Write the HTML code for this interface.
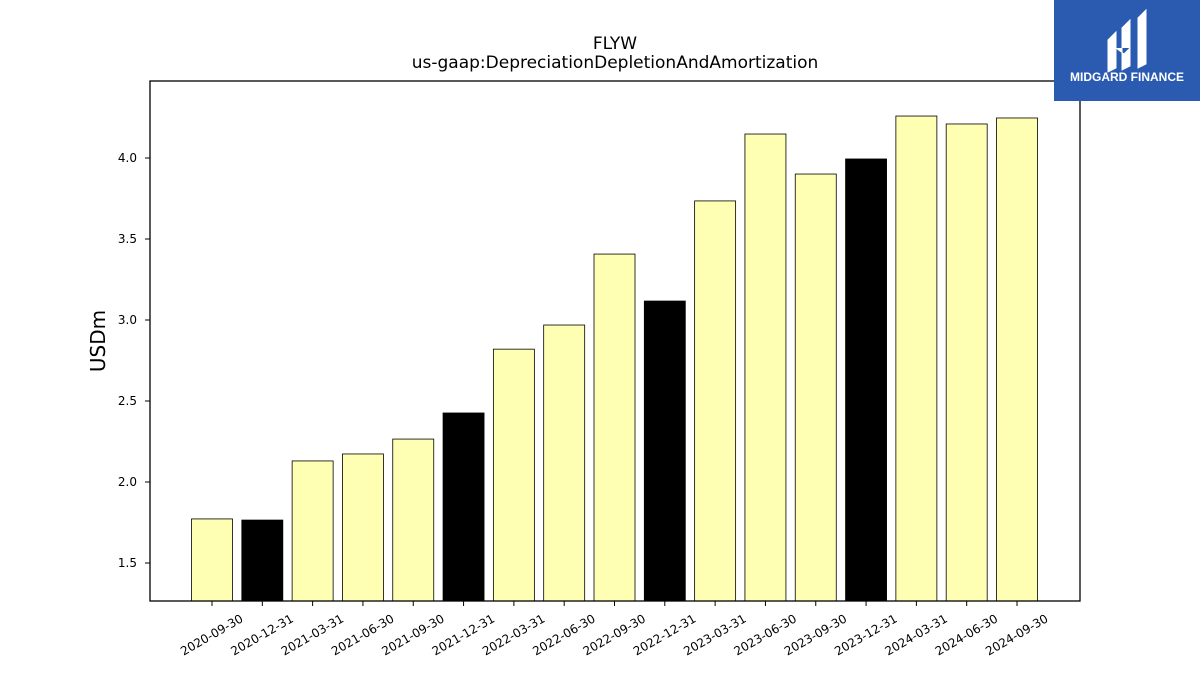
<!DOCTYPE html>
<html><head><meta charset="utf-8"><style>
body{margin:0;background:#fff;width:1200px;height:675px;overflow:hidden;font-family:"Liberation Sans","DejaVu Sans",sans-serif}
</style></head><body>
<svg id="chart" width="1200" height="675" xmlns="http://www.w3.org/2000/svg" font-family="DejaVu Sans, Liberation Sans, sans-serif">
<text x="615" y="49" text-anchor="middle" font-size="17">FLYW</text>
<text x="615" y="68" text-anchor="middle" font-size="17">us-gaap:DepreciationDepletionAndAmortization</text>
<text transform="translate(105,341) rotate(-90)" text-anchor="middle" font-size="20">USDm</text>
<g id="bars"></g>
<g id="ticks"></g>
<rect x="150" y="81" width="930" height="520" fill="none" stroke="#000" stroke-width="1.3"/>
<g>
<rect x="1054" y="0" width="146" height="101" fill="#2a5bb0"/>
<path d="M1108 40 L1116 32 L1116 68 L1108 72 Z M1122 28 L1130 20 L1130 66 L1122 70 Z M1138 18 L1146 10 L1146 64 L1138 68 Z M1116 48 L1124 54 L1130 48" fill="#fff" stroke="#fff" stroke-width="1"/>
<text x="1127" y="81" text-anchor="middle" font-size="12" font-weight="bold" fill="#fff" font-family="Liberation Sans, sans-serif">MIDGARD FINANCE</text>
</g>
</svg>
<script>
const categories=["2020-09-30","2020-12-31","2021-03-31","2021-06-30","2021-09-30","2021-12-31","2022-03-31","2022-06-30","2022-09-30","2022-12-31","2023-03-31","2023-06-30","2023-09-30","2023-12-31","2024-03-31","2024-06-30","2024-09-30"];
const values=[1.772,1.765,2.13,2.173,2.265,2.426,2.82,2.969,3.407,3.117,3.735,4.148,3.901,3.994,4.259,4.21,4.247];
const highlight=[false,true,false,false,false,true,false,false,false,true,false,false,false,true,false,false,false];
const yTicks=[1.5,2.0,2.5,3.0,3.5,4.0];
const NS="http://www.w3.org/2000/svg";
const yMin=1.2654,yMax=4.4753,plotTop=81,plotBottom=601;
function y(v){return plotBottom-(v-yMin)/(yMax-yMin)*(plotBottom-plotTop);}
function x(i){return 212+i*(1017-212)/(categories.length-1);}
const bw=41;
const bars=document.getElementById('bars'),ticks=document.getElementById('ticks');
values.forEach((v,i)=>{
 const r=document.createElementNS(NS,'rect');
 
 
 r.setAttribute('x',x(i)-bw/2);r.setAttribute('y',y(v));
 r.setAttribute('width',bw);r.setAttribute('height',plotBottom-y(v));
 r.setAttribute('fill',highlight[i]?'#000':'#ffffb3');r.setAttribute('stroke','#000');r.setAttribute('stroke-width','0.8');
 bars.appendChild(r);
 const t=document.createElementNS(NS,'line');
 
 
 t.setAttribute('x1',x(i));t.setAttribute('x2',x(i));t.setAttribute('y1',plotBottom);t.setAttribute('y2',plotBottom+5);t.setAttribute('stroke','#000');
 ticks.appendChild(t);
 const l=document.createElementNS(NS,'text');
 
 
 l.setAttribute('font-size','12');l.setAttribute('text-anchor','end');
 l.setAttribute('transform','translate('+(x(i)+32)+','+(plotBottom+20)+') rotate(-30)');
 l.textContent=categories[i];ticks.appendChild(l);
});
yTicks.forEach(v=>{
 const t=document.createElementNS(NS,'line');
 
 
 t.setAttribute('x1',145);t.setAttribute('x2',150);t.setAttribute('y1',y(v));t.setAttribute('y2',y(v));t.setAttribute('stroke','#000');
 ticks.appendChild(t);
 const l=document.createElementNS(NS,'text');
 
 
 l.setAttribute('font-size','12');l.setAttribute('text-anchor','end');
 l.setAttribute('x',137);l.setAttribute('y',y(v)+4);
 l.textContent=v.toFixed(1);ticks.appendChild(l);
});
</script>
</body></html>
